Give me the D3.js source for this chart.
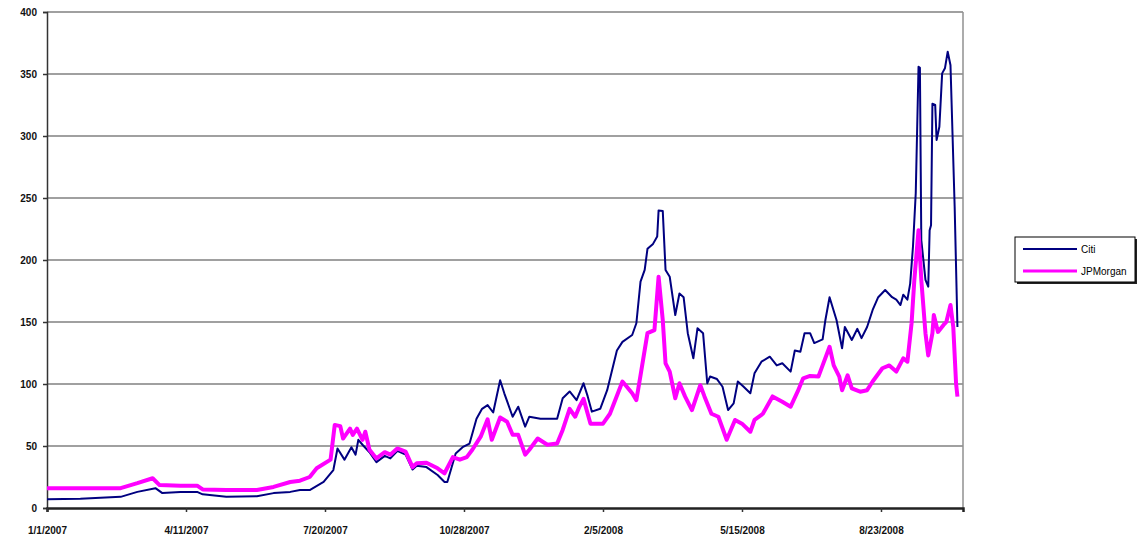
<!DOCTYPE html>
<html lang="en">
<head>
<meta charset="UTF-8">
<title>Citi vs JPMorgan</title>
<style>
  body { margin: 0; background: #fff; }
  svg { display: block; }
  .tick text { font-family: Arial, "Liberation Sans", sans-serif; font-weight: bold; }
</style>
</head>
<body>
<script src="https://d3js.org/d3.v7.min.js"></script>
<script>
// values (date, level)
const citi = [
  ["2007-01-01", 7], ["2007-01-25", 7.5], ["2007-02-23", 9], ["2007-03-07", 13], ["2007-03-20", 16],
  ["2007-03-25", 12], ["2007-04-07", 13], ["2007-04-19", 13], ["2007-04-23", 11], ["2007-05-10", 9],
  ["2007-06-01", 9.5], ["2007-06-13", 12], ["2007-06-25", 13], ["2007-07-02", 14.5], ["2007-07-09", 14.5],
  ["2007-07-19", 21], ["2007-07-26", 30.6], ["2007-07-29", 48], ["2007-08-03", 39], ["2007-08-08", 49],
  ["2007-08-11", 43], ["2007-08-13", 55], ["2007-08-16", 51], ["2007-08-21", 45], ["2007-08-26", 37],
  ["2007-09-01", 42], ["2007-09-05", 40], ["2007-09-10", 46], ["2007-09-16", 43], ["2007-09-21", 31],
  ["2007-09-24", 34], ["2007-10-01", 33], ["2007-10-09", 26.6], ["2007-10-14", 21], ["2007-10-16", 21],
  ["2007-10-22", 44], ["2007-10-27", 49], ["2007-11-01", 52], ["2007-11-06", 72], ["2007-11-10", 80],
  ["2007-11-14", 83], ["2007-11-18", 77], ["2007-11-23", 103], ["2007-11-26", 92.5], ["2007-12-02", 73.6],
  ["2007-12-06", 81.7], ["2007-12-11", 65.6], ["2007-12-14", 73.6], ["2007-12-22", 72], ["2008-01-03", 72],
  ["2008-01-07", 88.5], ["2008-01-12", 94], ["2008-01-17", 87], ["2008-01-22", 100.6], ["2008-01-25", 90],
  ["2008-01-28", 77.7], ["2008-02-03", 80], ["2008-02-08", 95], ["2008-02-11", 108.6], ["2008-02-15", 127],
  ["2008-02-19", 134], ["2008-02-26", 139.5], ["2008-02-29", 149], ["2008-03-03", 182.5], ["2008-03-06", 192],
  ["2008-03-08", 209], ["2008-03-12", 213], ["2008-03-15", 219], ["2008-03-16", 240], ["2008-03-19", 239.5],
  ["2008-03-21", 192], ["2008-03-24", 186.5], ["2008-03-28", 155.6], ["2008-03-31", 173], ["2008-04-03", 170],
  ["2008-04-06", 141], ["2008-04-10", 120.7], ["2008-04-13", 145], ["2008-04-17", 141], ["2008-04-20", 100.6],
  ["2008-04-22", 106], ["2008-04-27", 104], ["2008-05-01", 97.8], ["2008-05-05", 79], ["2008-05-09", 84.4],
  ["2008-05-12", 102], ["2008-05-16", 98], ["2008-05-21", 92.5], ["2008-05-24", 108.6], ["2008-05-29", 118],
  ["2008-06-04", 122], ["2008-06-09", 115], ["2008-06-13", 116.7], ["2008-06-19", 110], ["2008-06-22", 127],
  ["2008-06-26", 126], ["2008-06-29", 141], ["2008-07-03", 141], ["2008-07-06", 133], ["2008-07-12", 136],
  ["2008-07-14", 151.6], ["2008-07-17", 170], ["2008-07-22", 151.6], ["2008-07-26", 128.8], ["2008-07-28", 146],
  ["2008-08-02", 135.5], ["2008-08-06", 144.5], ["2008-08-09", 137], ["2008-08-13", 146], ["2008-08-17", 159.7],
  ["2008-08-21", 170], ["2008-08-26", 175.8], ["2008-08-31", 170], ["2008-09-03", 168], ["2008-09-06", 163.7],
  ["2008-09-08", 172], ["2008-09-11", 168], ["2008-09-13", 181], ["2008-09-15", 210.7], ["2008-09-17", 253.8],
  ["2008-09-19", 355.9], ["2008-09-20", 355], ["2008-09-21", 216], ["2008-09-24", 184], ["2008-09-26", 178.5],
  ["2008-09-27", 224], ["2008-09-28", 228], ["2008-09-29", 326], ["2008-10-01", 325], ["2008-10-02", 296.8],
  ["2008-10-04", 307.5], ["2008-10-06", 350.5], ["2008-10-08", 354.6], ["2008-10-10", 368], ["2008-10-12", 357],
  ["2008-10-15", 243], ["2008-10-17", 146]
];

const jpmorgan = [
  ["2007-01-01", 16], ["2007-02-23", 16], ["2007-03-07", 20], ["2007-03-18", 24], ["2007-03-23", 18.5],
  ["2007-04-07", 18], ["2007-04-19", 18], ["2007-04-23", 15], ["2007-05-10", 14.5], ["2007-06-01", 14.5],
  ["2007-06-13", 17], ["2007-06-25", 21], ["2007-07-02", 22], ["2007-07-09", 25], ["2007-07-14", 32],
  ["2007-07-24", 39], ["2007-07-27", 67], ["2007-07-31", 66], ["2007-08-02", 56], ["2007-08-07", 64],
  ["2007-08-09", 59], ["2007-08-12", 64], ["2007-08-16", 55], ["2007-08-18", 61.5], ["2007-08-21", 47],
  ["2007-08-26", 40], ["2007-09-01", 45], ["2007-09-05", 43], ["2007-09-10", 48], ["2007-09-16", 45.5],
  ["2007-09-21", 33], ["2007-09-24", 36], ["2007-10-01", 36.5], ["2007-10-09", 32], ["2007-10-14", 28],
  ["2007-10-20", 41], ["2007-10-25", 39], ["2007-10-30", 41], ["2007-11-03", 47], ["2007-11-09", 57.5],
  ["2007-11-14", 71.5], ["2007-11-17", 55], ["2007-11-23", 73], ["2007-11-28", 69.6], ["2007-12-02", 59],
  ["2007-12-06", 59], ["2007-12-11", 43], ["2007-12-14", 47], ["2007-12-20", 56], ["2007-12-27", 51],
  ["2008-01-03", 52], ["2008-01-07", 63], ["2008-01-12", 80], ["2008-01-16", 73.6], ["2008-01-19", 81.7],
  ["2008-01-22", 88], ["2008-01-27", 68], ["2008-02-05", 68], ["2008-02-10", 76], ["2008-02-19", 102],
  ["2008-02-26", 92.5], ["2008-02-29", 87], ["2008-03-03", 107], ["2008-03-08", 141], ["2008-03-13", 143.5],
  ["2008-03-16", 186.5], ["2008-03-19", 151.6], ["2008-03-21", 116.7], ["2008-03-24", 110], ["2008-03-28", 88.5],
  ["2008-03-31", 100.6], ["2008-04-04", 90], ["2008-04-09", 79], ["2008-04-15", 99], ["2008-04-18", 90],
  ["2008-04-23", 76], ["2008-04-28", 73.6], ["2008-05-04", 55], ["2008-05-10", 71], ["2008-05-15", 68],
  ["2008-05-21", 61.5], ["2008-05-24", 71], ["2008-05-30", 76], ["2008-06-06", 90], ["2008-06-13", 85.7],
  ["2008-06-19", 81.7], ["2008-06-24", 93.8], ["2008-06-28", 104.6], ["2008-07-03", 106.5], ["2008-07-09", 106],
  ["2008-07-12", 115], ["2008-07-17", 130], ["2008-07-20", 115], ["2008-07-24", 106], ["2008-07-26", 95],
  ["2008-07-30", 107], ["2008-08-02", 96.5], ["2008-08-08", 93.8], ["2008-08-13", 95], ["2008-08-17", 102],
  ["2008-08-24", 112.7], ["2008-08-29", 115], ["2008-09-03", 110], ["2008-09-08", 120.7], ["2008-09-11", 118],
  ["2008-09-14", 149], ["2008-09-16", 184], ["2008-09-19", 224], ["2008-09-21", 184], ["2008-09-24", 141],
  ["2008-09-26", 123], ["2008-09-29", 141], ["2008-09-30", 155.6], ["2008-10-03", 142], ["2008-10-07", 147.6],
  ["2008-10-09", 150], ["2008-10-12", 163.7], ["2008-10-14", 146], ["2008-10-16", 100.6], ["2008-10-17", 89.8]
];

const xTickDates = ["2007-01-01", "2007-04-11", "2007-07-20", "2007-10-28", "2008-02-05", "2008-05-15", "2008-08-23"];
const yTicks = [0, 50, 100, 150, 200, 250, 300, 350, 400];
const seriesNames = ["Citi", "JPMorgan"];
const seriesColors = ["#000080", "#ff00ff"];

const width = 1139, height = 543;
const margin = {top: 12, right: 176, bottom: 35, left: 47};
const parse = d3.timeParse("%Y-%m-%d");
const fmt = d3.timeFormat("%-m/%-d/%Y");

const svg = d3.create("svg")
    .attr("width", width)
    .attr("height", height);

const x = d3.scaleTime()
    .domain([parse("2007-01-01"), parse("2008-10-21")])
    .range([margin.left, width - margin.right]);

const y = d3.scaleLinear()
    .domain([0, 400])
    .range([height - margin.bottom, margin.top]);

// gridlines
svg.append("g")
    .selectAll("line")
    .data(yTicks.filter(d => d > 0))
    .join("line")
      .attr("x1", margin.left)
      .attr("x2", width - margin.right)
      .attr("y1", d => y(d))
      .attr("y2", d => y(d))
      .attr("stroke", "#808080")
      .attr("stroke-width", 1.5);

// right edge of the plot area
svg.append("line")
    .attr("x1", width - margin.right).attr("x2", width - margin.right)
    .attr("y1", margin.top).attr("y2", height - margin.bottom)
    .attr("stroke", "#909090")
    .attr("stroke-width", 1.5);

const yAxis = svg.append("g")
    .attr("transform", `translate(${margin.left},0)`)
    .call(d3.axisLeft(y).tickValues(yTicks).tickSize(4).tickPadding(6));
yAxis.selectAll("text").attr("font-size", 10).attr("fill", "#111");
yAxis.selectAll("line, path").attr("stroke", "#333").attr("stroke-width", 1.5);

const xAxis = svg.append("g")
    .attr("transform", `translate(0,${height - margin.bottom})`)
    .call(d3.axisBottom(x).tickValues(xTickDates.map(parse)).tickFormat(fmt).tickSize(4).tickPadding(15));
xAxis.select(".domain").attr("stroke", "#222").attr("stroke-width", 2.5);
xAxis.selectAll(".tick line").attr("stroke", "#333").attr("stroke-width", 1.5);
xAxis.selectAll("text").attr("font-size", 10).attr("fill", "#111");

const line = d3.line()
    .x(d => x(parse(d[0])))
    .y(d => y(d[1]));

svg.append("path")
    .datum(citi)
    .attr("fill", "none")
    .attr("stroke", seriesColors[0])
    .attr("stroke-width", 2)
    .attr("stroke-linejoin", "round")
    .attr("d", line);

svg.append("path")
    .datum(jpmorgan)
    .attr("fill", "none")
    .attr("stroke", seriesColors[1])
    .attr("stroke-width", 4)
    .attr("stroke-linejoin", "round")
    .attr("d", line);

// legend
const legend = svg.append("g").attr("transform", "translate(1015,237)");
legend.append("rect")
    .attr("x", 2).attr("y", 2)
    .attr("width", 120).attr("height", 45)
    .attr("fill", "#222");
legend.append("rect")
    .attr("width", 120).attr("height", 45)
    .attr("fill", "#fff")
    .attr("stroke", "#000")
    .attr("stroke-width", 1);

const item = legend.selectAll("g.item")
    .data(seriesNames)
    .join("g")
      .attr("class", "item")
      .attr("transform", (d, i) => `translate(0,${12 + i * 22})`);
item.append("line")
    .attr("x1", 8).attr("x2", 62)
    .attr("stroke", (d, i) => seriesColors[i])
    .attr("stroke-width", (d, i) => i === 0 ? 2 : 3);
item.append("text")
    .attr("x", 66)
    .attr("dy", "0.35em")
    .attr("font-family", "Arial, 'Liberation Sans', sans-serif")
    .attr("font-size", 10)
    .text(d => d);

document.body.appendChild(svg.node());
</script>
</body>
</html>
